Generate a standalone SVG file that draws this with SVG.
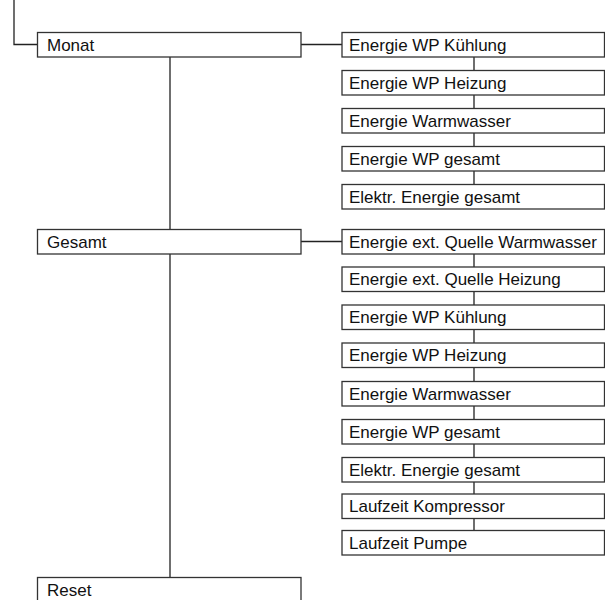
<svg xmlns="http://www.w3.org/2000/svg" width="605" height="600" viewBox="0 0 605 600">
<style>
.box{fill:#fff;stroke:#333;stroke-width:1.3}
.t{font-family:"Liberation Sans",Arial,sans-serif;font-size:17px;fill:#111}
.c{fill:none;stroke:#222;stroke-width:1.3}
</style>
<rect width="605" height="600" fill="#fff"/>
<g id="connectors">
<path class="c" d="M14,0 V44.5 H37.5"/>
<path class="c" d="M301,44.5 H342"/>
<path class="c" d="M301,241.5 H342"/>
<path class="c" d="M170,57 V229.5 M170,254 V577.5"/>
<path class="c" d="M474,57 V70.5 M474,95 V108.5 M474,133 V146.5 M474,171 V184.5"/>
<path class="c" d="M474,254 V267 M474,291.5 V305 M474,329.5 V343 M474,367.5 V381.5 M474,406 V419.5 M474,444 V457.5 M474,482 V494 M474,518.5 V530.5"/>
</g>
<g id="monat"><rect class="box" x="37.5" y="32.5" width="263.5" height="24.5"/><text class="t" x="47" y="50.5">Monat</text></g>
<g id="gesamt"><rect class="box" x="37.5" y="229.5" width="263.5" height="24.5"/><text class="t" x="47" y="247.5">Gesamt</text></g>
<g id="reset"><rect class="box" x="37.5" y="577.5" width="263.5" height="30"/><text class="t" x="47" y="595.5">Reset</text></g>
<g id="m1"><rect class="box" x="342" y="32.5" width="262.5" height="24.5"/><text class="t" x="349" y="50.5">Energie WP Kühlung</text></g>
<g id="m2"><rect class="box" x="342" y="70.5" width="262.5" height="24.5"/><text class="t" x="349" y="88.5">Energie WP Heizung</text></g>
<g id="m3"><rect class="box" x="342" y="108.5" width="262.5" height="24.5"/><text class="t" x="349" y="126.5">Energie Warmwasser</text></g>
<g id="m4"><rect class="box" x="342" y="146.5" width="262.5" height="24.5"/><text class="t" x="349" y="164.5">Energie WP gesamt</text></g>
<g id="m5"><rect class="box" x="342" y="184.5" width="262.5" height="24.5"/><text class="t" x="349" y="202.5">Elektr. Energie gesamt</text></g>
<g id="g1"><rect class="box" x="342" y="229.5" width="262.5" height="24.5"/><text class="t" x="349" y="247.5">Energie ext. Quelle Warmwasser</text></g>
<g id="g2"><rect class="box" x="342" y="267" width="262.5" height="24.5"/><text class="t" x="349" y="285">Energie ext. Quelle Heizung</text></g>
<g id="g3"><rect class="box" x="342" y="305" width="262.5" height="24.5"/><text class="t" x="349" y="323">Energie WP Kühlung</text></g>
<g id="g4"><rect class="box" x="342" y="343" width="262.5" height="24.5"/><text class="t" x="349" y="361">Energie WP Heizung</text></g>
<g id="g5"><rect class="box" x="342" y="381.5" width="262.5" height="24.5"/><text class="t" x="349" y="399.5">Energie Warmwasser</text></g>
<g id="g6"><rect class="box" x="342" y="419.5" width="262.5" height="24.5"/><text class="t" x="349" y="437.5">Energie WP gesamt</text></g>
<g id="g7"><rect class="box" x="342" y="457.5" width="262.5" height="24.5"/><text class="t" x="349" y="475.5">Elektr. Energie gesamt</text></g>
<g id="g8"><rect class="box" x="342" y="494" width="262.5" height="24.5"/><text class="t" x="349" y="512">Laufzeit Kompressor</text></g>
<g id="g9"><rect class="box" x="342" y="530.5" width="262.5" height="24.5"/><text class="t" x="349" y="548.5">Laufzeit Pumpe</text></g>
</svg>
